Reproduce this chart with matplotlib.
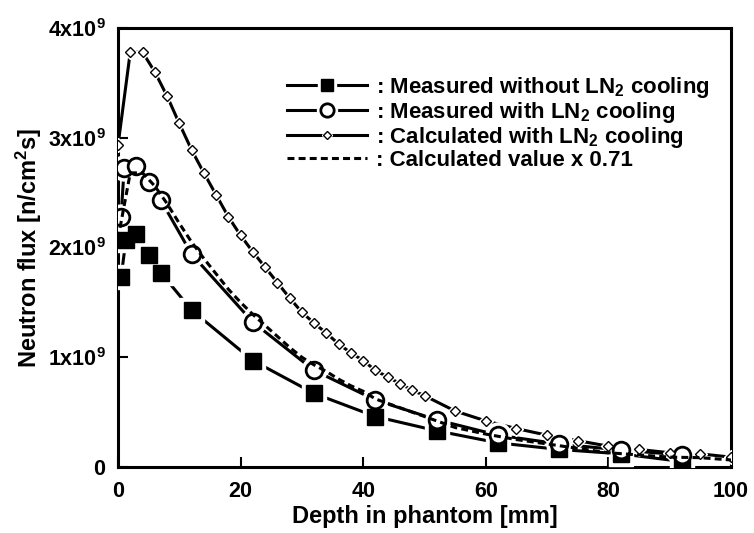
import matplotlib
matplotlib.use('Agg')
import matplotlib.pyplot as plt
from matplotlib.legend_handler import HandlerTuple
from matplotlib.ticker import FixedLocator, FixedFormatter

plt.rcParams['font.family'] = ['Liberation Sans', 'DejaVu Sans']
plt.rcParams['font.weight'] = 'bold'
plt.rcParams['mathtext.fontset'] = 'custom'
plt.rcParams['mathtext.rm'] = 'Liberation Sans:bold'
plt.rcParams['mathtext.bf'] = 'Liberation Sans:bold'
plt.rcParams['mathtext.default'] = 'rm'
plt.rcParams['lines.scale_dashes'] = False

# Measured without LN2 cooling (filled squares)
x_meas_no = [0.5, 1.3, 3, 5, 7, 12, 22, 32, 42, 52, 62, 72, 82, 92]
y_meas_no = [1.73, 2.07, 2.12, 1.93, 1.77, 1.43, 0.97, 0.67, 0.46, 0.33, 0.22, 0.16, 0.12, 0.05]

# Measured with LN2 cooling (open circles)
x_meas_ln = [0.5, 1, 3, 5, 7, 12, 22, 32, 42, 52, 62, 72, 82, 92]
y_meas_ln = [2.28, 2.72, 2.74, 2.60, 2.43, 1.94, 1.32, 0.88, 0.61, 0.43, 0.29, 0.21, 0.155, 0.11]

# Calculated with LN2 cooling (open diamonds)
x_calc = [0, 2, 4, 6, 8, 10, 12, 14, 16, 18, 20, 22, 24, 26, 28, 30, 32, 34, 36, 38,
          40, 42, 44, 46, 48, 50, 55, 60, 65, 70, 75, 80, 85, 90, 95, 100]
y_calc = [2.93, 3.78, 3.78, 3.60, 3.38, 3.13, 2.89, 2.68, 2.48, 2.28, 2.11, 1.96, 1.82,
          1.68, 1.54, 1.41, 1.31, 1.22, 1.12, 1.04, 0.97, 0.88, 0.82, 0.76, 0.70, 0.65,
          0.51, 0.42, 0.35, 0.29, 0.24, 0.19, 0.16, 0.13, 0.12, 0.09]

# Calculated value x 0.71 (dashed)
y_scaled = [2.08, 2.68, 2.68, 2.56, 2.40, 2.22, 2.05, 1.90, 1.76, 1.62, 1.50, 1.39, 1.29,
            1.19, 1.09, 1.00, 0.93, 0.87, 0.80, 0.74, 0.69, 0.62, 0.58, 0.54, 0.50, 0.46,
            0.36, 0.30, 0.25, 0.21, 0.17, 0.13, 0.11, 0.09, 0.085, 0.064]

labels = [': Measured without LN$_2$ cooling',
          ': Measured with LN$_2$ cooling',
          ': Calculated with LN$_2$ cooling',
          ': Calculated value x 0.71']

xticks = [0, 20, 40, 60, 80, 100]
yticks = [0, 1, 2, 3, 4]
ytick_labels = ['0', '1x10$^9$', '2x10$^9$', '3x10$^9$', '4x10$^9$']

fig = plt.figure(figsize=(7.54, 5.33), dpi=100)
ax = fig.add_axes([0.1565, 0.1238, 0.813, 0.8237])

lw = 2.2

def series(x, y, marker, ms, fc, mew, gap):
    ln, = ax.plot(x, y, '-', color='black', lw=lw, zorder=2)
    gp, = ax.plot(x, y, linestyle='none', marker=marker, ms=ms + gap, mfc='white',
                  mec='white', zorder=3)
    mk, = ax.plot(x, y, linestyle='none', marker=marker, ms=ms, mfc=fc,
                  mec='black', mew=mew, zorder=4)
    return ln, gp, mk

h1 = series(x_meas_no, y_meas_no, 's', 11, 'black', 1, 6)
h2 = series(x_meas_ln, y_meas_ln, 'o', 12, 'white', 2, 6)
h3 = series(x_calc, y_calc, 'D', 5, 'white', 1, 2)
h4, = ax.plot(x_calc, y_scaled, color='black', lw=lw, dashes=(5, 3), zorder=5)

ax.set_xlim(0, 100)
ax.set_ylim(0, 4)
ax.xaxis.set_major_locator(FixedLocator(xticks))
ax.yaxis.set_major_locator(FixedLocator(yticks))
ax.yaxis.set_major_formatter(FixedFormatter(ytick_labels))
ax.tick_params(direction='in', length=7, width=1.5, labelsize=15.5)
ax.tick_params(axis='x', pad=10)
ax.tick_params(axis='y', pad=9)
for s in ax.spines.values():
    s.set_linewidth(2.2)

ax.set_xlabel('Depth in phantom [mm]', fontsize=17, fontweight='bold', labelpad=2)
ax.set_ylabel('Neutron flux [n/cm$^2$s]', fontsize=17, fontweight='bold', labelpad=3)

leg = ax.legend([h1, h2, h3, h4], labels, handler_map={tuple: HandlerTuple(ndivide=1)},
                loc='upper right', bbox_to_anchor=(0.965, 0.894), frameon=False,
                fontsize=16, handlelength=3.6, handletextpad=0.4, labelspacing=0.0,
                borderaxespad=0, borderpad=0, markerscale=0.8)

fig.savefig('out.png', dpi=100)
